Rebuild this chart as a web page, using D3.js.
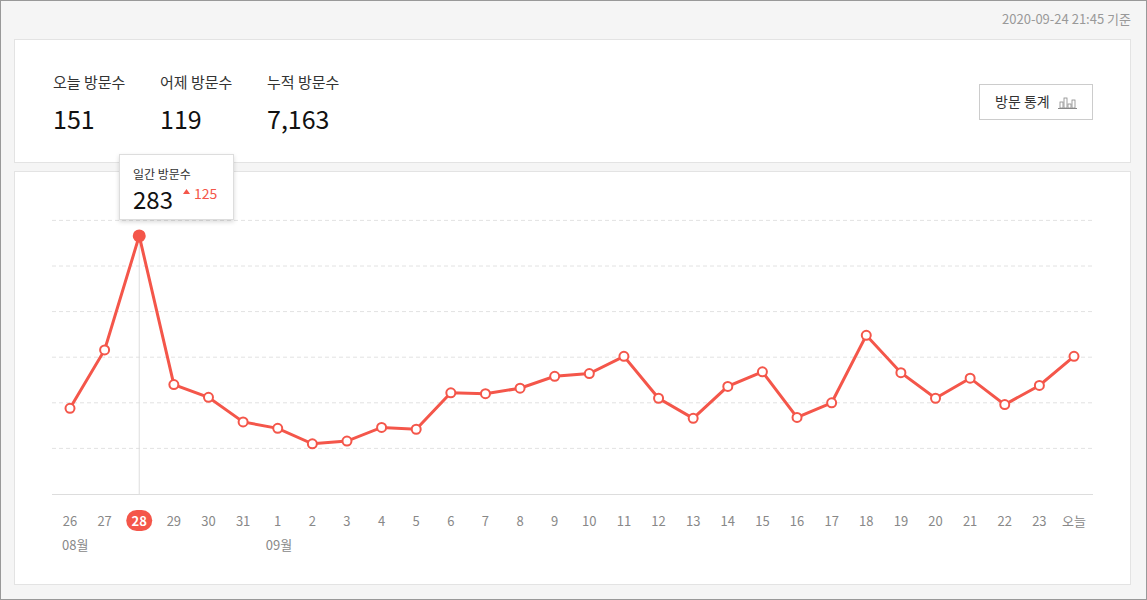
<!DOCTYPE html><html><head><meta charset="utf-8">
<script src="https://cdn.jsdelivr.net/npm/d3@7"></script>
<style>body{margin:0;background:#f5f5f5;font-family:"Noto Sans CJK KR","Noto Sans",sans-serif}</style></head><body>
<svg id="c" width="1147" height="600"></svg>
<script>
const labels=["26","27","28","29","30","31","1","2","3","4","5","6","7","8","9","10","11","12","13","14","15","16","17","18","19","20","21","22","23","오늘"];
const visits=[94,158,283,120,106,79,72,55,58,73,71,111,110,116,129,132,151,105,83,118,134,84,100,174,133,105,127,98,119,151];
const monthLabels=[{i:0,t:"08월"},{i:6,t:"09월"}];
const yTicks=[50,100,150,200,250,300];
const stats=[["오늘 방문수","151"],["어제 방문수","119"],["누적 방문수","7,163"]];
const hi=2;
const svg=d3.select("#c");
svg.append("rect").attr("x",0.5).attr("y",0.5).attr("width",1146).attr("height",599).attr("fill","#f5f5f5").attr("stroke","#999");
svg.append("text").attr("x",1131).attr("y",24).attr("text-anchor","end").attr("font-size",13).attr("fill","#999").text("2020-09-24 21:45 기준");
svg.append("rect").attr("x",14.5).attr("y",39.5).attr("width",1116).attr("height",123).attr("fill","#fff").attr("stroke","#e3e3e3");
svg.append("rect").attr("x",14.5).attr("y",171.5).attr("width",1116).attr("height",413).attr("fill","#fff").attr("stroke","#e3e3e3");
const sx=[53,160,267];
stats.forEach((s,i)=>{
 svg.append("text").attr("x",sx[i]).attr("y",88).attr("font-size",15).attr("fill","#333").text(s[0]);
 svg.append("text").attr("x",sx[i]).attr("y",129).attr("font-size",25).attr("fill","#111").text(s[1]);
});
svg.append("rect").attr("x",979.5).attr("y",84.5).attr("width",113).attr("height",35).attr("fill","#fff").attr("stroke","#ccc");
svg.append("text").attr("x",995).attr("y",107).attr("font-size",14).attr("fill","#333").text("방문 통계");
[[1060,6],[1064,10],[1068,4],[1072,8]].forEach(b=>svg.append("rect").attr("x",b[0]).attr("y",108-b[1]).attr("width",3).attr("height",b[1]).attr("fill","none").attr("stroke","#888").attr("stroke-width",0.8));
svg.append("line").attr("x1",1058).attr("x2",1077).attr("y1",108.5).attr("y2",108.5).attr("stroke","#888");
const x=d3.scalePoint().domain(d3.range(labels.length)).range([70,1074]);
const y=d3.scaleLinear().domain([0,300]).range([494,220.4]);
yTicks.forEach(t=>svg.append("line").attr("x1",52).attr("x2",1093).attr("y1",y(t)).attr("y2",y(t)).attr("stroke","#e2e2e2").attr("stroke-dasharray","4,3"));
svg.append("line").attr("x1",52).attr("x2",1093).attr("y1",494.5).attr("y2",494.5).attr("stroke","#ddd");
svg.append("line").attr("x1",x(hi)).attr("x2",x(hi)).attr("y1",y(visits[hi])).attr("y2",494).attr("stroke","#ddd");
svg.append("path").datum(visits).attr("fill","none").attr("stroke","#f4564a").attr("stroke-width",3)
 .attr("d",d3.line().x((d,i)=>x(i)).y(d=>y(d)));
svg.selectAll("circle.p").data(visits).join("circle").attr("cx",(d,i)=>x(i)).attr("cy",d=>y(d)).attr("r",(d,i)=>i===hi?5.5:4.5)
 .attr("fill",(d,i)=>i===hi?"#f4564a":"#fff").attr("stroke","#f4564a").attr("stroke-width",2);
labels.forEach((l,i)=>{
 if(i===hi){svg.append("rect").attr("x",x(i)-13).attr("y",510).attr("width",26).attr("height",21).attr("rx",10.5).attr("fill","#f4564a");}
 svg.append("text").attr("x",x(i)).attr("y",526).attr("text-anchor","middle").attr("font-size",13).attr("fill",i===hi?"#fff":"#888").attr("font-weight",i===hi?"bold":"normal").text(l);
});
monthLabels.forEach(m=>svg.append("text").attr("x",x(m.i)-8-(m.i?4:0)).attr("y",550).attr("font-size",13).attr("fill","#888").text(m.t));
const f=svg.append("defs").append("filter").attr("id","sh").attr("x","-20%").attr("y","-20%").attr("width","140%").attr("height","150%");
f.append("feDropShadow").attr("dx",0).attr("dy",2).attr("stdDeviation",2).attr("flood-opacity",0.15);
svg.append("rect").attr("x",119.5).attr("y",154.5).attr("width",114).attr("height",65).attr("fill","#fff").attr("stroke","#ddd").attr("filter","url(#sh)");
svg.append("text").attr("x",133).attr("y",179).attr("font-size",12).attr("fill","#333").text("일간 방문수");
svg.append("text").attr("x",133).attr("y",209).attr("font-size",24).attr("fill","#111").text(visits[hi]);
svg.append("path").attr("d","M183,194 L186.5,189 L190,194Z").attr("fill","#f4564a");
svg.append("text").attr("x",194).attr("y",199).attr("font-size",14).attr("fill","#f4564a").text(visits[hi]-visits[hi-1]);
</script></body></html>
